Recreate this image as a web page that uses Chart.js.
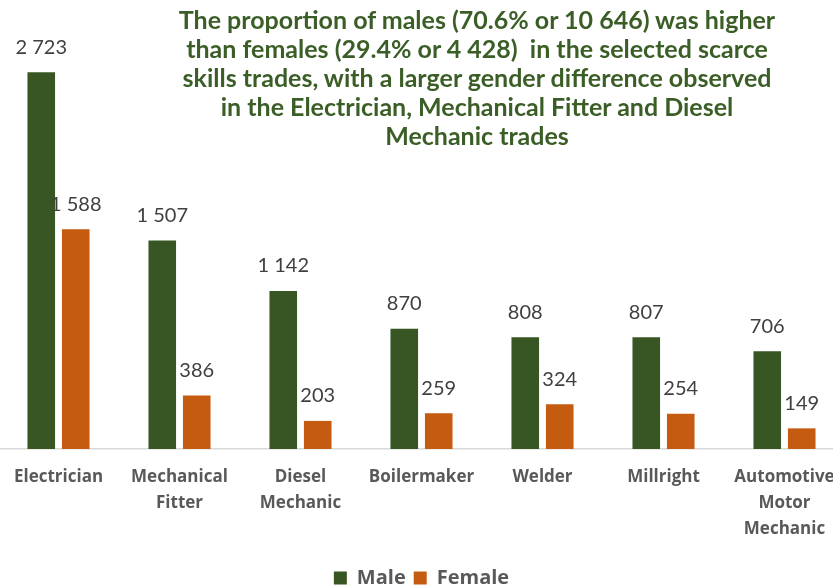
<!DOCTYPE html>
<html>
<head>
<meta charset="utf-8">
<script src="https://cdn.jsdelivr.net/npm/chart.js@4"></script>
<style>
  html, body { margin: 0; padding: 0; background: #fff; overflow: hidden; }
  #wrap { position: relative; width: 833px; height: 587px; overflow: hidden; }
  #chart { position: absolute; left: -2px; top: 0; }
  #title {
    position: absolute; left: 127px; top: 5px; width: 700px;
    text-align: center; white-space: nowrap;
    font: bold 25px Lato, sans-serif; line-height: 29px; color: #3b5e27;
  }
</style>
</head>
<body>
<div id="wrap">
  <canvas id="chart" width="847" height="598"></canvas>
  <div id="title">The proportion of males (70.6% or 10 646) was higher<br>than females (29.4% or 4 428)&nbsp; in the selected scarce<br>skills trades, with a larger gender difference observed<br>in the Electrician, Mechanical Fitter and Diesel<br>Mechanic trades</div>
</div>
<script>
// chart data
const categories = ['Electrician', ['Mechanical', 'Fitter'], ['Diesel', 'Mechanic'], 'Boilermaker', 'Welder', 'Millright', ['Automotive', 'Motor', 'Mechanic']];
const maleValues = [2723, 1507, 1142, 870, 808, 807, 706];
const femaleValues = [1588, 386, 203, 259, 324, 254, 149];

// draw value labels above each bar, with space as thousands separator
const valueLabels = {
    id: 'valueLabels',
    afterDatasetsDraw(chart) {
        const ctx = chart.ctx;
        ctx.save();
        ctx.font = '20px Lato, sans-serif';
        ctx.fillStyle = '#404040';
        ctx.textAlign = 'center';
        ctx.textBaseline = 'middle';
        chart.data.datasets.forEach((ds, i) => {
            chart.getDatasetMeta(i).data.forEach((bar, j) => {
                const txt = String(ds.data[j]).replace(/\B(?=(\d{3})+(?!\d))/g, ' ');
                ctx.fillText(txt, bar.x, bar.y - 25);
            });
        });
        ctx.restore();
    }
};

function renderChart() {
    const ctx = document.getElementById('chart').getContext('2d');
    new Chart(ctx, {
        type: 'bar',
        data: {
            labels: categories,
            datasets: [{
                label: 'Male',
                data: maleValues,
                backgroundColor: '#375623',
                categoryPercentage: 0.57,
                barPercentage: 0.8
            }, {
                label: 'Female',
                data: femaleValues,
                backgroundColor: '#c55a11',
                categoryPercentage: 0.57,
                barPercentage: 0.8
            }]
        },
        options: {
            responsive: false,
            animation: false,
            layout: { padding: { top: 34, left: 0, right: 0, bottom: 0 } },
            scales: {
                x: {
                    grid: { display: false },
                    border: { color: '#d9d9d9', width: 1.5 },
                    ticks: {
                        color: '#595959',
                        font: { family: '"Open Sans", sans-serif', size: 17, weight: 'bold', lineHeight: 1.53 },
                        padding: 7,
                        maxRotation: 0,
                        autoSkip: false
                    },
                    // leave a gap between the labels and the legend
                    afterFit(scale) {
                        scale.height += 11;
                    }
                },
                y: {
                    display: false,
                    min: 0,
                    max: 3000
                }
            },
            plugins: {
                legend: {
                    position: 'bottom',
                    labels: {
                        boxWidth: 13,
                        boxHeight: 13,
                        color: '#595959',
                        font: { family: '"Open Sans", sans-serif', size: 20, weight: 'bold' },
                        padding: 8
                    }
                },
                tooltip: { enabled: false }
            }
        },
        plugins: [valueLabels]
    });
}

// make sure the fonts are ready before the canvas draws
Promise.all([
    document.fonts.load('bold 17px "Open Sans"'),
    document.fonts.load('bold 20px "Open Sans"'),
    document.fonts.load('20px Lato')
]).then(renderChart, renderChart);
</script>
</body>
</html>
